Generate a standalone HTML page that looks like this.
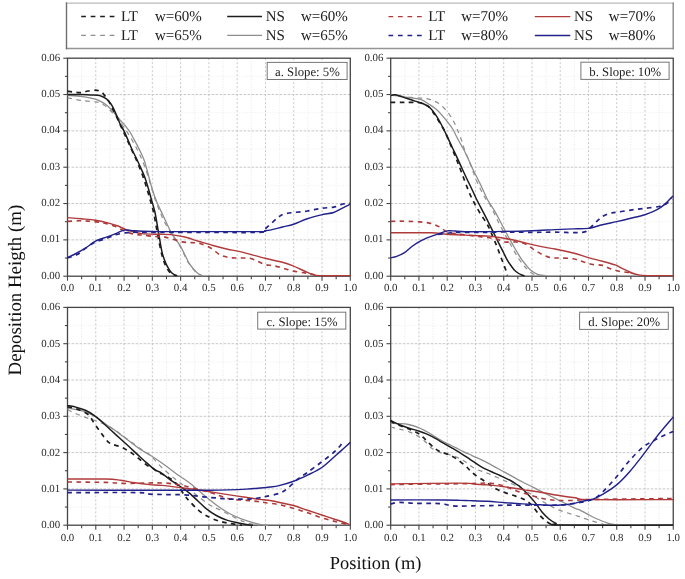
<!DOCTYPE html>
<html><head><meta charset="utf-8"><style>
html,body{margin:0;padding:0;background:#fff;}
svg{display:block;filter:blur(0.3px);}
text{font-family:"Liberation Serif",serif;text-rendering:geometricPrecision;}
.tl{font-size:10.85px;fill:#2a2a2a;}
.pl{font-size:12.75px;fill:#222;}
.lg{font-size:15px;fill:#222;}
.at{font-size:18.4px;fill:#111;}
.at2{font-size:18.85px;fill:#111;}
.gM{stroke:#bababa;stroke-width:0.8;stroke-dasharray:2 2;}
.gm{stroke:#e0e0e0;stroke-width:0.7;stroke-dasharray:1 1.6;}
.gMh{stroke:#bababa;stroke-width:0.8;stroke-dasharray:2.6 1.4;}
.gmh{stroke:#e6e6e6;stroke-width:0.7;stroke-dasharray:1 1.6;}
</style></head><body>
<svg width="685" height="579" viewBox="0 0 685 579">
<defs><clipPath id="cpa"><rect x="66.5" y="58.2" width="284.3" height="218.8"/></clipPath><clipPath id="cpb"><rect x="389.7" y="58.2" width="284.05" height="218.8"/></clipPath><clipPath id="cpc"><rect x="66.5" y="307.4" width="284.3" height="218.6"/></clipPath><clipPath id="cpd"><rect x="389.7" y="307.4" width="284.05" height="218.6"/></clipPath></defs>
<rect width="685" height="579" fill="#fff"/>
<line x1="81.64" y1="58.2" x2="81.64" y2="276.2" class="gm"/>
<line x1="95.78" y1="58.2" x2="95.78" y2="276.2" class="gM"/>
<line x1="109.92" y1="58.2" x2="109.92" y2="276.2" class="gm"/>
<line x1="124.06" y1="58.2" x2="124.06" y2="276.2" class="gM"/>
<line x1="138.2" y1="58.2" x2="138.2" y2="276.2" class="gm"/>
<line x1="152.34" y1="58.2" x2="152.34" y2="276.2" class="gM"/>
<line x1="166.48" y1="58.2" x2="166.48" y2="276.2" class="gm"/>
<line x1="180.62" y1="58.2" x2="180.62" y2="276.2" class="gM"/>
<line x1="194.76" y1="58.2" x2="194.76" y2="276.2" class="gm"/>
<line x1="208.9" y1="58.2" x2="208.9" y2="276.2" class="gM"/>
<line x1="223.04" y1="58.2" x2="223.04" y2="276.2" class="gm"/>
<line x1="237.18" y1="58.2" x2="237.18" y2="276.2" class="gM"/>
<line x1="251.32" y1="58.2" x2="251.32" y2="276.2" class="gm"/>
<line x1="265.46" y1="58.2" x2="265.46" y2="276.2" class="gM"/>
<line x1="279.6" y1="58.2" x2="279.6" y2="276.2" class="gm"/>
<line x1="293.74" y1="58.2" x2="293.74" y2="276.2" class="gM"/>
<line x1="307.88" y1="58.2" x2="307.88" y2="276.2" class="gm"/>
<line x1="322.02" y1="58.2" x2="322.02" y2="276.2" class="gM"/>
<line x1="336.16" y1="58.2" x2="336.16" y2="276.2" class="gm"/>
<line x1="67.5" y1="258.03" x2="350.3" y2="258.03" class="gmh"/>
<line x1="67.5" y1="239.87" x2="350.3" y2="239.87" class="gMh"/>
<line x1="67.5" y1="221.7" x2="350.3" y2="221.7" class="gmh"/>
<line x1="67.5" y1="203.53" x2="350.3" y2="203.53" class="gMh"/>
<line x1="67.5" y1="185.37" x2="350.3" y2="185.37" class="gmh"/>
<line x1="67.5" y1="167.2" x2="350.3" y2="167.2" class="gMh"/>
<line x1="67.5" y1="149.03" x2="350.3" y2="149.03" class="gmh"/>
<line x1="67.5" y1="130.87" x2="350.3" y2="130.87" class="gMh"/>
<line x1="67.5" y1="112.7" x2="350.3" y2="112.7" class="gmh"/>
<line x1="67.5" y1="94.53" x2="350.3" y2="94.53" class="gMh"/>
<line x1="67.5" y1="76.37" x2="350.3" y2="76.37" class="gmh"/>
<line x1="404.83" y1="58.2" x2="404.83" y2="276.2" class="gm"/>
<line x1="418.95" y1="58.2" x2="418.95" y2="276.2" class="gM"/>
<line x1="433.08" y1="58.2" x2="433.08" y2="276.2" class="gm"/>
<line x1="447.21" y1="58.2" x2="447.21" y2="276.2" class="gM"/>
<line x1="461.34" y1="58.2" x2="461.34" y2="276.2" class="gm"/>
<line x1="475.47" y1="58.2" x2="475.47" y2="276.2" class="gM"/>
<line x1="489.59" y1="58.2" x2="489.59" y2="276.2" class="gm"/>
<line x1="503.72" y1="58.2" x2="503.72" y2="276.2" class="gM"/>
<line x1="517.85" y1="58.2" x2="517.85" y2="276.2" class="gm"/>
<line x1="531.98" y1="58.2" x2="531.98" y2="276.2" class="gM"/>
<line x1="546.1" y1="58.2" x2="546.1" y2="276.2" class="gm"/>
<line x1="560.23" y1="58.2" x2="560.23" y2="276.2" class="gM"/>
<line x1="574.36" y1="58.2" x2="574.36" y2="276.2" class="gm"/>
<line x1="588.49" y1="58.2" x2="588.49" y2="276.2" class="gM"/>
<line x1="602.61" y1="58.2" x2="602.61" y2="276.2" class="gm"/>
<line x1="616.74" y1="58.2" x2="616.74" y2="276.2" class="gM"/>
<line x1="630.87" y1="58.2" x2="630.87" y2="276.2" class="gm"/>
<line x1="645" y1="58.2" x2="645" y2="276.2" class="gM"/>
<line x1="659.12" y1="58.2" x2="659.12" y2="276.2" class="gm"/>
<line x1="390.7" y1="258.03" x2="673.25" y2="258.03" class="gmh"/>
<line x1="390.7" y1="239.87" x2="673.25" y2="239.87" class="gMh"/>
<line x1="390.7" y1="221.7" x2="673.25" y2="221.7" class="gmh"/>
<line x1="390.7" y1="203.53" x2="673.25" y2="203.53" class="gMh"/>
<line x1="390.7" y1="185.37" x2="673.25" y2="185.37" class="gmh"/>
<line x1="390.7" y1="167.2" x2="673.25" y2="167.2" class="gMh"/>
<line x1="390.7" y1="149.03" x2="673.25" y2="149.03" class="gmh"/>
<line x1="390.7" y1="130.87" x2="673.25" y2="130.87" class="gMh"/>
<line x1="390.7" y1="112.7" x2="673.25" y2="112.7" class="gmh"/>
<line x1="390.7" y1="94.53" x2="673.25" y2="94.53" class="gMh"/>
<line x1="390.7" y1="76.37" x2="673.25" y2="76.37" class="gmh"/>
<line x1="81.64" y1="307.4" x2="81.64" y2="525.2" class="gm"/>
<line x1="95.78" y1="307.4" x2="95.78" y2="525.2" class="gM"/>
<line x1="109.92" y1="307.4" x2="109.92" y2="525.2" class="gm"/>
<line x1="124.06" y1="307.4" x2="124.06" y2="525.2" class="gM"/>
<line x1="138.2" y1="307.4" x2="138.2" y2="525.2" class="gm"/>
<line x1="152.34" y1="307.4" x2="152.34" y2="525.2" class="gM"/>
<line x1="166.48" y1="307.4" x2="166.48" y2="525.2" class="gm"/>
<line x1="180.62" y1="307.4" x2="180.62" y2="525.2" class="gM"/>
<line x1="194.76" y1="307.4" x2="194.76" y2="525.2" class="gm"/>
<line x1="208.9" y1="307.4" x2="208.9" y2="525.2" class="gM"/>
<line x1="223.04" y1="307.4" x2="223.04" y2="525.2" class="gm"/>
<line x1="237.18" y1="307.4" x2="237.18" y2="525.2" class="gM"/>
<line x1="251.32" y1="307.4" x2="251.32" y2="525.2" class="gm"/>
<line x1="265.46" y1="307.4" x2="265.46" y2="525.2" class="gM"/>
<line x1="279.6" y1="307.4" x2="279.6" y2="525.2" class="gm"/>
<line x1="293.74" y1="307.4" x2="293.74" y2="525.2" class="gM"/>
<line x1="307.88" y1="307.4" x2="307.88" y2="525.2" class="gm"/>
<line x1="322.02" y1="307.4" x2="322.02" y2="525.2" class="gM"/>
<line x1="336.16" y1="307.4" x2="336.16" y2="525.2" class="gm"/>
<line x1="67.5" y1="507.05" x2="350.3" y2="507.05" class="gmh"/>
<line x1="67.5" y1="488.9" x2="350.3" y2="488.9" class="gMh"/>
<line x1="67.5" y1="470.75" x2="350.3" y2="470.75" class="gmh"/>
<line x1="67.5" y1="452.6" x2="350.3" y2="452.6" class="gMh"/>
<line x1="67.5" y1="434.45" x2="350.3" y2="434.45" class="gmh"/>
<line x1="67.5" y1="416.3" x2="350.3" y2="416.3" class="gMh"/>
<line x1="67.5" y1="398.15" x2="350.3" y2="398.15" class="gmh"/>
<line x1="67.5" y1="380" x2="350.3" y2="380" class="gMh"/>
<line x1="67.5" y1="361.85" x2="350.3" y2="361.85" class="gmh"/>
<line x1="67.5" y1="343.7" x2="350.3" y2="343.7" class="gMh"/>
<line x1="67.5" y1="325.55" x2="350.3" y2="325.55" class="gmh"/>
<line x1="404.83" y1="307.4" x2="404.83" y2="525.2" class="gm"/>
<line x1="418.95" y1="307.4" x2="418.95" y2="525.2" class="gM"/>
<line x1="433.08" y1="307.4" x2="433.08" y2="525.2" class="gm"/>
<line x1="447.21" y1="307.4" x2="447.21" y2="525.2" class="gM"/>
<line x1="461.34" y1="307.4" x2="461.34" y2="525.2" class="gm"/>
<line x1="475.47" y1="307.4" x2="475.47" y2="525.2" class="gM"/>
<line x1="489.59" y1="307.4" x2="489.59" y2="525.2" class="gm"/>
<line x1="503.72" y1="307.4" x2="503.72" y2="525.2" class="gM"/>
<line x1="517.85" y1="307.4" x2="517.85" y2="525.2" class="gm"/>
<line x1="531.98" y1="307.4" x2="531.98" y2="525.2" class="gM"/>
<line x1="546.1" y1="307.4" x2="546.1" y2="525.2" class="gm"/>
<line x1="560.23" y1="307.4" x2="560.23" y2="525.2" class="gM"/>
<line x1="574.36" y1="307.4" x2="574.36" y2="525.2" class="gm"/>
<line x1="588.49" y1="307.4" x2="588.49" y2="525.2" class="gM"/>
<line x1="602.61" y1="307.4" x2="602.61" y2="525.2" class="gm"/>
<line x1="616.74" y1="307.4" x2="616.74" y2="525.2" class="gM"/>
<line x1="630.87" y1="307.4" x2="630.87" y2="525.2" class="gm"/>
<line x1="645" y1="307.4" x2="645" y2="525.2" class="gM"/>
<line x1="659.12" y1="307.4" x2="659.12" y2="525.2" class="gm"/>
<line x1="390.7" y1="507.05" x2="673.25" y2="507.05" class="gmh"/>
<line x1="390.7" y1="488.9" x2="673.25" y2="488.9" class="gMh"/>
<line x1="390.7" y1="470.75" x2="673.25" y2="470.75" class="gmh"/>
<line x1="390.7" y1="452.6" x2="673.25" y2="452.6" class="gMh"/>
<line x1="390.7" y1="434.45" x2="673.25" y2="434.45" class="gmh"/>
<line x1="390.7" y1="416.3" x2="673.25" y2="416.3" class="gMh"/>
<line x1="390.7" y1="398.15" x2="673.25" y2="398.15" class="gmh"/>
<line x1="390.7" y1="380" x2="673.25" y2="380" class="gMh"/>
<line x1="390.7" y1="361.85" x2="673.25" y2="361.85" class="gmh"/>
<line x1="390.7" y1="343.7" x2="673.25" y2="343.7" class="gMh"/>
<line x1="390.7" y1="325.55" x2="673.25" y2="325.55" class="gmh"/>
<rect x="67.5" y="58.2" width="282.8" height="218" fill="none" stroke="#454545" stroke-width="1.3"/>
<line x1="67.5" y1="276.2" x2="67.5" y2="280.7" stroke="#454545" stroke-width="1.1"/>
<line x1="81.64" y1="276.2" x2="81.64" y2="279.2" stroke="#454545" stroke-width="1.1"/>
<line x1="95.78" y1="276.2" x2="95.78" y2="280.7" stroke="#454545" stroke-width="1.1"/>
<line x1="109.92" y1="276.2" x2="109.92" y2="279.2" stroke="#454545" stroke-width="1.1"/>
<line x1="124.06" y1="276.2" x2="124.06" y2="280.7" stroke="#454545" stroke-width="1.1"/>
<line x1="138.2" y1="276.2" x2="138.2" y2="279.2" stroke="#454545" stroke-width="1.1"/>
<line x1="152.34" y1="276.2" x2="152.34" y2="280.7" stroke="#454545" stroke-width="1.1"/>
<line x1="166.48" y1="276.2" x2="166.48" y2="279.2" stroke="#454545" stroke-width="1.1"/>
<line x1="180.62" y1="276.2" x2="180.62" y2="280.7" stroke="#454545" stroke-width="1.1"/>
<line x1="194.76" y1="276.2" x2="194.76" y2="279.2" stroke="#454545" stroke-width="1.1"/>
<line x1="208.9" y1="276.2" x2="208.9" y2="280.7" stroke="#454545" stroke-width="1.1"/>
<line x1="223.04" y1="276.2" x2="223.04" y2="279.2" stroke="#454545" stroke-width="1.1"/>
<line x1="237.18" y1="276.2" x2="237.18" y2="280.7" stroke="#454545" stroke-width="1.1"/>
<line x1="251.32" y1="276.2" x2="251.32" y2="279.2" stroke="#454545" stroke-width="1.1"/>
<line x1="265.46" y1="276.2" x2="265.46" y2="280.7" stroke="#454545" stroke-width="1.1"/>
<line x1="279.6" y1="276.2" x2="279.6" y2="279.2" stroke="#454545" stroke-width="1.1"/>
<line x1="293.74" y1="276.2" x2="293.74" y2="280.7" stroke="#454545" stroke-width="1.1"/>
<line x1="307.88" y1="276.2" x2="307.88" y2="279.2" stroke="#454545" stroke-width="1.1"/>
<line x1="322.02" y1="276.2" x2="322.02" y2="280.7" stroke="#454545" stroke-width="1.1"/>
<line x1="336.16" y1="276.2" x2="336.16" y2="279.2" stroke="#454545" stroke-width="1.1"/>
<line x1="350.3" y1="276.2" x2="350.3" y2="280.7" stroke="#454545" stroke-width="1.1"/>
<line x1="63.3" y1="276.2" x2="67.5" y2="276.2" stroke="#454545" stroke-width="1.1"/>
<line x1="64.9" y1="258.03" x2="67.5" y2="258.03" stroke="#454545" stroke-width="1.1"/>
<line x1="63.3" y1="239.87" x2="67.5" y2="239.87" stroke="#454545" stroke-width="1.1"/>
<line x1="64.9" y1="221.7" x2="67.5" y2="221.7" stroke="#454545" stroke-width="1.1"/>
<line x1="63.3" y1="203.53" x2="67.5" y2="203.53" stroke="#454545" stroke-width="1.1"/>
<line x1="64.9" y1="185.37" x2="67.5" y2="185.37" stroke="#454545" stroke-width="1.1"/>
<line x1="63.3" y1="167.2" x2="67.5" y2="167.2" stroke="#454545" stroke-width="1.1"/>
<line x1="64.9" y1="149.03" x2="67.5" y2="149.03" stroke="#454545" stroke-width="1.1"/>
<line x1="63.3" y1="130.87" x2="67.5" y2="130.87" stroke="#454545" stroke-width="1.1"/>
<line x1="64.9" y1="112.7" x2="67.5" y2="112.7" stroke="#454545" stroke-width="1.1"/>
<line x1="63.3" y1="94.53" x2="67.5" y2="94.53" stroke="#454545" stroke-width="1.1"/>
<line x1="64.9" y1="76.37" x2="67.5" y2="76.37" stroke="#454545" stroke-width="1.1"/>
<line x1="63.3" y1="58.2" x2="67.5" y2="58.2" stroke="#454545" stroke-width="1.1"/>
<text x="67.5" y="291.45" class="tl" text-anchor="middle">0.0</text>
<text x="95.78" y="291.45" class="tl" text-anchor="middle">0.1</text>
<text x="124.06" y="291.45" class="tl" text-anchor="middle">0.2</text>
<text x="152.34" y="291.45" class="tl" text-anchor="middle">0.3</text>
<text x="180.62" y="291.45" class="tl" text-anchor="middle">0.4</text>
<text x="208.9" y="291.45" class="tl" text-anchor="middle">0.5</text>
<text x="237.18" y="291.45" class="tl" text-anchor="middle">0.6</text>
<text x="265.46" y="291.45" class="tl" text-anchor="middle">0.7</text>
<text x="293.74" y="291.45" class="tl" text-anchor="middle">0.8</text>
<text x="322.02" y="291.45" class="tl" text-anchor="middle">0.9</text>
<text x="350.3" y="291.45" class="tl" text-anchor="middle">1.0</text>
<text x="60.2" y="278.6" class="tl" text-anchor="end">0.00</text>
<text x="60.2" y="242.27" class="tl" text-anchor="end">0.01</text>
<text x="60.2" y="205.93" class="tl" text-anchor="end">0.02</text>
<text x="60.2" y="169.6" class="tl" text-anchor="end">0.03</text>
<text x="60.2" y="133.27" class="tl" text-anchor="end">0.04</text>
<text x="60.2" y="96.93" class="tl" text-anchor="end">0.05</text>
<text x="60.2" y="60.6" class="tl" text-anchor="end">0.06</text>
<rect x="390.7" y="58.2" width="282.55" height="218" fill="none" stroke="#454545" stroke-width="1.3"/>
<line x1="390.7" y1="276.2" x2="390.7" y2="280.7" stroke="#454545" stroke-width="1.1"/>
<line x1="404.83" y1="276.2" x2="404.83" y2="279.2" stroke="#454545" stroke-width="1.1"/>
<line x1="418.95" y1="276.2" x2="418.95" y2="280.7" stroke="#454545" stroke-width="1.1"/>
<line x1="433.08" y1="276.2" x2="433.08" y2="279.2" stroke="#454545" stroke-width="1.1"/>
<line x1="447.21" y1="276.2" x2="447.21" y2="280.7" stroke="#454545" stroke-width="1.1"/>
<line x1="461.34" y1="276.2" x2="461.34" y2="279.2" stroke="#454545" stroke-width="1.1"/>
<line x1="475.47" y1="276.2" x2="475.47" y2="280.7" stroke="#454545" stroke-width="1.1"/>
<line x1="489.59" y1="276.2" x2="489.59" y2="279.2" stroke="#454545" stroke-width="1.1"/>
<line x1="503.72" y1="276.2" x2="503.72" y2="280.7" stroke="#454545" stroke-width="1.1"/>
<line x1="517.85" y1="276.2" x2="517.85" y2="279.2" stroke="#454545" stroke-width="1.1"/>
<line x1="531.98" y1="276.2" x2="531.98" y2="280.7" stroke="#454545" stroke-width="1.1"/>
<line x1="546.1" y1="276.2" x2="546.1" y2="279.2" stroke="#454545" stroke-width="1.1"/>
<line x1="560.23" y1="276.2" x2="560.23" y2="280.7" stroke="#454545" stroke-width="1.1"/>
<line x1="574.36" y1="276.2" x2="574.36" y2="279.2" stroke="#454545" stroke-width="1.1"/>
<line x1="588.49" y1="276.2" x2="588.49" y2="280.7" stroke="#454545" stroke-width="1.1"/>
<line x1="602.61" y1="276.2" x2="602.61" y2="279.2" stroke="#454545" stroke-width="1.1"/>
<line x1="616.74" y1="276.2" x2="616.74" y2="280.7" stroke="#454545" stroke-width="1.1"/>
<line x1="630.87" y1="276.2" x2="630.87" y2="279.2" stroke="#454545" stroke-width="1.1"/>
<line x1="645" y1="276.2" x2="645" y2="280.7" stroke="#454545" stroke-width="1.1"/>
<line x1="659.12" y1="276.2" x2="659.12" y2="279.2" stroke="#454545" stroke-width="1.1"/>
<line x1="673.25" y1="276.2" x2="673.25" y2="280.7" stroke="#454545" stroke-width="1.1"/>
<line x1="386.5" y1="276.2" x2="390.7" y2="276.2" stroke="#454545" stroke-width="1.1"/>
<line x1="388.1" y1="258.03" x2="390.7" y2="258.03" stroke="#454545" stroke-width="1.1"/>
<line x1="386.5" y1="239.87" x2="390.7" y2="239.87" stroke="#454545" stroke-width="1.1"/>
<line x1="388.1" y1="221.7" x2="390.7" y2="221.7" stroke="#454545" stroke-width="1.1"/>
<line x1="386.5" y1="203.53" x2="390.7" y2="203.53" stroke="#454545" stroke-width="1.1"/>
<line x1="388.1" y1="185.37" x2="390.7" y2="185.37" stroke="#454545" stroke-width="1.1"/>
<line x1="386.5" y1="167.2" x2="390.7" y2="167.2" stroke="#454545" stroke-width="1.1"/>
<line x1="388.1" y1="149.03" x2="390.7" y2="149.03" stroke="#454545" stroke-width="1.1"/>
<line x1="386.5" y1="130.87" x2="390.7" y2="130.87" stroke="#454545" stroke-width="1.1"/>
<line x1="388.1" y1="112.7" x2="390.7" y2="112.7" stroke="#454545" stroke-width="1.1"/>
<line x1="386.5" y1="94.53" x2="390.7" y2="94.53" stroke="#454545" stroke-width="1.1"/>
<line x1="388.1" y1="76.37" x2="390.7" y2="76.37" stroke="#454545" stroke-width="1.1"/>
<line x1="386.5" y1="58.2" x2="390.7" y2="58.2" stroke="#454545" stroke-width="1.1"/>
<text x="390.7" y="291.45" class="tl" text-anchor="middle">0.0</text>
<text x="418.95" y="291.45" class="tl" text-anchor="middle">0.1</text>
<text x="447.21" y="291.45" class="tl" text-anchor="middle">0.2</text>
<text x="475.47" y="291.45" class="tl" text-anchor="middle">0.3</text>
<text x="503.72" y="291.45" class="tl" text-anchor="middle">0.4</text>
<text x="531.98" y="291.45" class="tl" text-anchor="middle">0.5</text>
<text x="560.23" y="291.45" class="tl" text-anchor="middle">0.6</text>
<text x="588.49" y="291.45" class="tl" text-anchor="middle">0.7</text>
<text x="616.74" y="291.45" class="tl" text-anchor="middle">0.8</text>
<text x="645" y="291.45" class="tl" text-anchor="middle">0.9</text>
<text x="673.25" y="291.45" class="tl" text-anchor="middle">1.0</text>
<text x="383.4" y="278.6" class="tl" text-anchor="end">0.00</text>
<text x="383.4" y="242.27" class="tl" text-anchor="end">0.01</text>
<text x="383.4" y="205.93" class="tl" text-anchor="end">0.02</text>
<text x="383.4" y="169.6" class="tl" text-anchor="end">0.03</text>
<text x="383.4" y="133.27" class="tl" text-anchor="end">0.04</text>
<text x="383.4" y="96.93" class="tl" text-anchor="end">0.05</text>
<text x="383.4" y="60.6" class="tl" text-anchor="end">0.06</text>
<rect x="67.5" y="307.4" width="282.8" height="217.8" fill="none" stroke="#454545" stroke-width="1.3"/>
<line x1="67.5" y1="525.2" x2="67.5" y2="529.7" stroke="#454545" stroke-width="1.1"/>
<line x1="81.64" y1="525.2" x2="81.64" y2="528.2" stroke="#454545" stroke-width="1.1"/>
<line x1="95.78" y1="525.2" x2="95.78" y2="529.7" stroke="#454545" stroke-width="1.1"/>
<line x1="109.92" y1="525.2" x2="109.92" y2="528.2" stroke="#454545" stroke-width="1.1"/>
<line x1="124.06" y1="525.2" x2="124.06" y2="529.7" stroke="#454545" stroke-width="1.1"/>
<line x1="138.2" y1="525.2" x2="138.2" y2="528.2" stroke="#454545" stroke-width="1.1"/>
<line x1="152.34" y1="525.2" x2="152.34" y2="529.7" stroke="#454545" stroke-width="1.1"/>
<line x1="166.48" y1="525.2" x2="166.48" y2="528.2" stroke="#454545" stroke-width="1.1"/>
<line x1="180.62" y1="525.2" x2="180.62" y2="529.7" stroke="#454545" stroke-width="1.1"/>
<line x1="194.76" y1="525.2" x2="194.76" y2="528.2" stroke="#454545" stroke-width="1.1"/>
<line x1="208.9" y1="525.2" x2="208.9" y2="529.7" stroke="#454545" stroke-width="1.1"/>
<line x1="223.04" y1="525.2" x2="223.04" y2="528.2" stroke="#454545" stroke-width="1.1"/>
<line x1="237.18" y1="525.2" x2="237.18" y2="529.7" stroke="#454545" stroke-width="1.1"/>
<line x1="251.32" y1="525.2" x2="251.32" y2="528.2" stroke="#454545" stroke-width="1.1"/>
<line x1="265.46" y1="525.2" x2="265.46" y2="529.7" stroke="#454545" stroke-width="1.1"/>
<line x1="279.6" y1="525.2" x2="279.6" y2="528.2" stroke="#454545" stroke-width="1.1"/>
<line x1="293.74" y1="525.2" x2="293.74" y2="529.7" stroke="#454545" stroke-width="1.1"/>
<line x1="307.88" y1="525.2" x2="307.88" y2="528.2" stroke="#454545" stroke-width="1.1"/>
<line x1="322.02" y1="525.2" x2="322.02" y2="529.7" stroke="#454545" stroke-width="1.1"/>
<line x1="336.16" y1="525.2" x2="336.16" y2="528.2" stroke="#454545" stroke-width="1.1"/>
<line x1="350.3" y1="525.2" x2="350.3" y2="529.7" stroke="#454545" stroke-width="1.1"/>
<line x1="63.3" y1="525.2" x2="67.5" y2="525.2" stroke="#454545" stroke-width="1.1"/>
<line x1="64.9" y1="507.05" x2="67.5" y2="507.05" stroke="#454545" stroke-width="1.1"/>
<line x1="63.3" y1="488.9" x2="67.5" y2="488.9" stroke="#454545" stroke-width="1.1"/>
<line x1="64.9" y1="470.75" x2="67.5" y2="470.75" stroke="#454545" stroke-width="1.1"/>
<line x1="63.3" y1="452.6" x2="67.5" y2="452.6" stroke="#454545" stroke-width="1.1"/>
<line x1="64.9" y1="434.45" x2="67.5" y2="434.45" stroke="#454545" stroke-width="1.1"/>
<line x1="63.3" y1="416.3" x2="67.5" y2="416.3" stroke="#454545" stroke-width="1.1"/>
<line x1="64.9" y1="398.15" x2="67.5" y2="398.15" stroke="#454545" stroke-width="1.1"/>
<line x1="63.3" y1="380" x2="67.5" y2="380" stroke="#454545" stroke-width="1.1"/>
<line x1="64.9" y1="361.85" x2="67.5" y2="361.85" stroke="#454545" stroke-width="1.1"/>
<line x1="63.3" y1="343.7" x2="67.5" y2="343.7" stroke="#454545" stroke-width="1.1"/>
<line x1="64.9" y1="325.55" x2="67.5" y2="325.55" stroke="#454545" stroke-width="1.1"/>
<line x1="63.3" y1="307.4" x2="67.5" y2="307.4" stroke="#454545" stroke-width="1.1"/>
<text x="67.5" y="540.65" class="tl" text-anchor="middle">0.0</text>
<text x="95.78" y="540.65" class="tl" text-anchor="middle">0.1</text>
<text x="124.06" y="540.65" class="tl" text-anchor="middle">0.2</text>
<text x="152.34" y="540.65" class="tl" text-anchor="middle">0.3</text>
<text x="180.62" y="540.65" class="tl" text-anchor="middle">0.4</text>
<text x="208.9" y="540.65" class="tl" text-anchor="middle">0.5</text>
<text x="237.18" y="540.65" class="tl" text-anchor="middle">0.6</text>
<text x="265.46" y="540.65" class="tl" text-anchor="middle">0.7</text>
<text x="293.74" y="540.65" class="tl" text-anchor="middle">0.8</text>
<text x="322.02" y="540.65" class="tl" text-anchor="middle">0.9</text>
<text x="350.3" y="540.65" class="tl" text-anchor="middle">1.0</text>
<text x="60.2" y="528.2" class="tl" text-anchor="end">0.00</text>
<text x="60.2" y="491.9" class="tl" text-anchor="end">0.01</text>
<text x="60.2" y="455.6" class="tl" text-anchor="end">0.02</text>
<text x="60.2" y="419.3" class="tl" text-anchor="end">0.03</text>
<text x="60.2" y="383" class="tl" text-anchor="end">0.04</text>
<text x="60.2" y="346.7" class="tl" text-anchor="end">0.05</text>
<text x="60.2" y="310.4" class="tl" text-anchor="end">0.06</text>
<rect x="390.7" y="307.4" width="282.55" height="217.8" fill="none" stroke="#454545" stroke-width="1.3"/>
<line x1="390.7" y1="525.2" x2="390.7" y2="529.7" stroke="#454545" stroke-width="1.1"/>
<line x1="404.83" y1="525.2" x2="404.83" y2="528.2" stroke="#454545" stroke-width="1.1"/>
<line x1="418.95" y1="525.2" x2="418.95" y2="529.7" stroke="#454545" stroke-width="1.1"/>
<line x1="433.08" y1="525.2" x2="433.08" y2="528.2" stroke="#454545" stroke-width="1.1"/>
<line x1="447.21" y1="525.2" x2="447.21" y2="529.7" stroke="#454545" stroke-width="1.1"/>
<line x1="461.34" y1="525.2" x2="461.34" y2="528.2" stroke="#454545" stroke-width="1.1"/>
<line x1="475.47" y1="525.2" x2="475.47" y2="529.7" stroke="#454545" stroke-width="1.1"/>
<line x1="489.59" y1="525.2" x2="489.59" y2="528.2" stroke="#454545" stroke-width="1.1"/>
<line x1="503.72" y1="525.2" x2="503.72" y2="529.7" stroke="#454545" stroke-width="1.1"/>
<line x1="517.85" y1="525.2" x2="517.85" y2="528.2" stroke="#454545" stroke-width="1.1"/>
<line x1="531.98" y1="525.2" x2="531.98" y2="529.7" stroke="#454545" stroke-width="1.1"/>
<line x1="546.1" y1="525.2" x2="546.1" y2="528.2" stroke="#454545" stroke-width="1.1"/>
<line x1="560.23" y1="525.2" x2="560.23" y2="529.7" stroke="#454545" stroke-width="1.1"/>
<line x1="574.36" y1="525.2" x2="574.36" y2="528.2" stroke="#454545" stroke-width="1.1"/>
<line x1="588.49" y1="525.2" x2="588.49" y2="529.7" stroke="#454545" stroke-width="1.1"/>
<line x1="602.61" y1="525.2" x2="602.61" y2="528.2" stroke="#454545" stroke-width="1.1"/>
<line x1="616.74" y1="525.2" x2="616.74" y2="529.7" stroke="#454545" stroke-width="1.1"/>
<line x1="630.87" y1="525.2" x2="630.87" y2="528.2" stroke="#454545" stroke-width="1.1"/>
<line x1="645" y1="525.2" x2="645" y2="529.7" stroke="#454545" stroke-width="1.1"/>
<line x1="659.12" y1="525.2" x2="659.12" y2="528.2" stroke="#454545" stroke-width="1.1"/>
<line x1="673.25" y1="525.2" x2="673.25" y2="529.7" stroke="#454545" stroke-width="1.1"/>
<line x1="386.5" y1="525.2" x2="390.7" y2="525.2" stroke="#454545" stroke-width="1.1"/>
<line x1="388.1" y1="507.05" x2="390.7" y2="507.05" stroke="#454545" stroke-width="1.1"/>
<line x1="386.5" y1="488.9" x2="390.7" y2="488.9" stroke="#454545" stroke-width="1.1"/>
<line x1="388.1" y1="470.75" x2="390.7" y2="470.75" stroke="#454545" stroke-width="1.1"/>
<line x1="386.5" y1="452.6" x2="390.7" y2="452.6" stroke="#454545" stroke-width="1.1"/>
<line x1="388.1" y1="434.45" x2="390.7" y2="434.45" stroke="#454545" stroke-width="1.1"/>
<line x1="386.5" y1="416.3" x2="390.7" y2="416.3" stroke="#454545" stroke-width="1.1"/>
<line x1="388.1" y1="398.15" x2="390.7" y2="398.15" stroke="#454545" stroke-width="1.1"/>
<line x1="386.5" y1="380" x2="390.7" y2="380" stroke="#454545" stroke-width="1.1"/>
<line x1="388.1" y1="361.85" x2="390.7" y2="361.85" stroke="#454545" stroke-width="1.1"/>
<line x1="386.5" y1="343.7" x2="390.7" y2="343.7" stroke="#454545" stroke-width="1.1"/>
<line x1="388.1" y1="325.55" x2="390.7" y2="325.55" stroke="#454545" stroke-width="1.1"/>
<line x1="386.5" y1="307.4" x2="390.7" y2="307.4" stroke="#454545" stroke-width="1.1"/>
<text x="390.7" y="540.65" class="tl" text-anchor="middle">0.0</text>
<text x="418.95" y="540.65" class="tl" text-anchor="middle">0.1</text>
<text x="447.21" y="540.65" class="tl" text-anchor="middle">0.2</text>
<text x="475.47" y="540.65" class="tl" text-anchor="middle">0.3</text>
<text x="503.72" y="540.65" class="tl" text-anchor="middle">0.4</text>
<text x="531.98" y="540.65" class="tl" text-anchor="middle">0.5</text>
<text x="560.23" y="540.65" class="tl" text-anchor="middle">0.6</text>
<text x="588.49" y="540.65" class="tl" text-anchor="middle">0.7</text>
<text x="616.74" y="540.65" class="tl" text-anchor="middle">0.8</text>
<text x="645" y="540.65" class="tl" text-anchor="middle">0.9</text>
<text x="673.25" y="540.65" class="tl" text-anchor="middle">1.0</text>
<text x="383.4" y="528.2" class="tl" text-anchor="end">0.00</text>
<text x="383.4" y="491.9" class="tl" text-anchor="end">0.01</text>
<text x="383.4" y="455.6" class="tl" text-anchor="end">0.02</text>
<text x="383.4" y="419.3" class="tl" text-anchor="end">0.03</text>
<text x="383.4" y="383" class="tl" text-anchor="end">0.04</text>
<text x="383.4" y="346.7" class="tl" text-anchor="end">0.05</text>
<text x="383.4" y="310.4" class="tl" text-anchor="end">0.06</text>
<g clip-path="url(#cpa)">
<path d="M67.5,97.8 C69.82,98.23 76.68,99.72 81.4,100.4 C86.12,101.08 92.7,101.52 95.8,101.9 C98.9,102.28 98.63,102.18 100,102.7 C101.37,103.22 102.5,103.95 104,105 C105.5,106.05 107.33,107.42 109,109 C110.67,110.58 112.33,112.58 114,114.5 C115.67,116.42 117.33,118.33 119,120.5 C120.67,122.67 122.33,125.08 124,127.5 C125.67,129.92 127.33,132.33 129,135 C130.67,137.67 132.42,140.67 134,143.5 C135.58,146.33 137.08,149.08 138.5,152 C139.92,154.92 141.08,157.5 142.5,161 C143.92,164.5 145.58,168.83 147,173 C148.42,177.17 149.67,181.67 151,186 C152.33,190.33 153.5,194.67 155,199 C156.5,203.33 158.33,208 160,212 C161.67,216 163.5,220.13 165,223 C166.5,225.87 167.83,227.25 169,229.2 C170.17,231.15 170.7,232.67 172,234.7 C173.3,236.73 175.38,239.33 176.8,241.4 C178.22,243.47 179.25,244.88 180.5,247.1 C181.75,249.32 183.03,252.17 184.3,254.7 C185.57,257.23 186.67,259.93 188.1,262.3 C189.53,264.67 191.32,267.02 192.9,268.9 C194.48,270.78 196,272.42 197.6,273.6 C199.2,274.78 201.68,275.6 202.5,276" fill="none" stroke="#8e8e8e" stroke-width="1.2" stroke-dasharray="4.6 4.4" stroke-linejoin="round"/>
<path d="M67.5,95.3 C69.75,95.47 77.25,95.87 81,96.3 C84.75,96.73 87.62,97.42 90,97.9 C92.38,98.38 93.55,98.63 95.3,99.2 C97.05,99.77 98.75,100.42 100.5,101.3 C102.25,102.18 104.22,103.35 105.8,104.5 C107.38,105.65 108.7,106.92 110,108.2 C111.3,109.48 112.43,110.82 113.6,112.2 C114.77,113.58 115.85,115.12 117,116.5 C118.15,117.88 119.05,118.87 120.5,120.5 C121.95,122.13 124.12,124.38 125.7,126.3 C127.28,128.22 128.78,130.13 130,132 C131.22,133.87 131.83,135.35 133,137.5 C134.17,139.65 135.67,142.32 137,144.9 C138.33,147.48 139.73,150.23 141,153 C142.27,155.77 143.15,157 144.6,161.5 C146.05,166 148.38,175.25 149.7,180 C151.02,184.75 151.35,186.4 152.5,190 C153.65,193.6 154.92,197.52 156.6,201.6 C158.28,205.68 160.45,209.9 162.6,214.5 C164.75,219.1 167.85,225.83 169.5,229.2 C171.15,232.57 171.2,232.67 172.5,234.7 C173.8,236.73 175.88,239.33 177.3,241.4 C178.72,243.47 179.75,244.88 181,247.1 C182.25,249.32 183.53,252.17 184.8,254.7 C186.07,257.23 187.17,259.93 188.6,262.3 C190.03,264.67 191.82,267.02 193.4,268.9 C194.98,270.78 196.5,272.42 198.1,273.6 C199.7,274.78 202.18,275.6 203,276" fill="none" stroke="#8e8e8e" stroke-width="1.3" stroke-linejoin="round"/>
<path d="M67.5,91.2 C68.58,91.37 71.68,91.97 74,92.2 C76.32,92.43 79.07,92.8 81.4,92.6 C83.73,92.4 85.65,91.4 88,91 C90.35,90.6 93.55,90.17 95.5,90.2 C97.45,90.23 98.53,90.73 99.7,91.2 C100.87,91.67 101.62,92.2 102.5,93 C103.38,93.8 104.2,94.97 105,96 C105.8,97.03 106.47,97.95 107.3,99.2 C108.13,100.45 109.13,101.95 110,103.5 C110.87,105.05 111.42,106.33 112.5,108.5 C113.58,110.67 115.25,113.83 116.5,116.5 C117.75,119.17 118.83,121.95 120,124.5 C121.17,127.05 122.25,129.13 123.5,131.8 C124.75,134.47 126.17,137.55 127.5,140.5 C128.83,143.45 130.17,146.58 131.5,149.5 C132.83,152.42 134.2,155.08 135.5,158 C136.8,160.92 137.97,163.67 139.3,167 C140.63,170.33 142.22,174.33 143.5,178 C144.78,181.67 145.83,185.17 147,189 C148.17,192.83 149.42,197.17 150.5,201 C151.58,204.83 152.5,207.5 153.5,212 C154.5,216.5 155.5,222.67 156.5,228 C157.5,233.33 158.5,239.17 159.5,244 C160.5,248.83 161.33,253.08 162.5,257 C163.67,260.92 165.08,264.75 166.5,267.5 C167.92,270.25 169.42,272.15 171,273.5 C172.58,274.85 175.17,275.25 176,275.6" fill="none" stroke="#1c1c1c" stroke-width="1.7" stroke-dasharray="4.6 4.4" stroke-linejoin="round"/>
<path d="M67.5,94.5 C69.75,94.52 77.25,94.52 81,94.6 C84.75,94.68 87.18,94.88 90,95 C92.82,95.12 95.97,95.08 97.9,95.3 C99.83,95.52 100.38,95.82 101.6,96.3 C102.82,96.78 104.15,97.53 105.2,98.2 C106.25,98.87 106.93,99.33 107.9,100.3 C108.87,101.27 110.05,102.6 111,104 C111.95,105.4 112.82,107.13 113.6,108.7 C114.38,110.27 115.03,111.88 115.7,113.4 C116.37,114.92 116.87,116.03 117.6,117.8 C118.33,119.57 119.07,121.87 120.1,124 C121.13,126.13 122.48,127.93 123.8,130.6 C125.12,133.27 126.62,136.82 128,140 C129.38,143.18 130.77,146.78 132.1,149.7 C133.43,152.62 134.73,154.85 136,157.5 C137.27,160.15 138.27,162.4 139.7,165.6 C141.13,168.8 143.13,172.8 144.6,176.7 C146.07,180.6 147.35,185.12 148.5,189 C149.65,192.88 150.43,196.17 151.5,200 C152.57,203.83 153.83,207.17 154.9,212 C155.97,216.83 156.77,222.57 157.9,229 C159.03,235.43 160.6,245.43 161.7,250.6 C162.8,255.77 163.58,257.42 164.5,260 C165.42,262.58 166.2,264.18 167.2,266.1 C168.2,268.02 169.33,270.07 170.5,271.5 C171.67,272.93 173.07,274.02 174.2,274.7 C175.33,275.38 176.78,275.45 177.3,275.6" fill="none" stroke="#1c1c1c" stroke-width="1.5" stroke-linejoin="round"/>
<path d="M67.5,221.4 C69.32,221.3 75.03,220.85 78.4,220.8 C81.77,220.75 84.6,220.92 87.7,221.1 C90.8,221.28 93.88,221.47 97,221.9 C100.12,222.33 103.28,222.92 106.4,223.7 C109.52,224.48 112.6,225.33 115.7,226.6 C118.8,227.87 121.88,230.03 125,231.3 C128.12,232.57 131.57,233.57 134.4,234.2 C137.23,234.83 138.63,234.72 142,235.1 C145.37,235.48 151.03,236.22 154.6,236.5 C158.17,236.78 160.48,236.38 163.4,236.8 C166.32,237.22 168.95,238.15 172.1,239 C175.25,239.85 179.13,241.3 182.3,241.9 C185.47,242.5 188.17,242.35 191.1,242.6 C194.03,242.85 196.5,242.42 199.9,243.4 C203.3,244.38 208.1,246.57 211.5,248.5 C214.9,250.43 217.13,253.47 220.3,255 C223.47,256.53 227.22,257.2 230.5,257.7 C233.78,258.2 236.8,257.9 240,258 C243.2,258.1 246.7,257.72 249.7,258.3 C252.7,258.88 255.42,260.45 258,261.5 C260.58,262.55 262.55,263.88 265.2,264.6 C267.85,265.32 270.77,265.15 273.9,265.8 C277.03,266.45 280.77,267.62 284,268.5 C287.23,269.38 289.68,270.33 293.3,271.1 C296.92,271.87 302.33,272.5 305.7,273.1 C309.07,273.7 311.45,274.33 313.5,274.7 C315.55,275.07 317.25,275.2 318,275.3" fill="none" stroke="#b03a3a" stroke-width="1.6" stroke-dasharray="4.6 4.4" stroke-linejoin="round"/>
<path d="M67.3,217.6 C69.63,217.8 76.6,218.37 81.3,218.8 C86,219.23 90.93,219.48 95.5,220.2 C100.07,220.92 104.93,222.13 108.7,223.1 C112.47,224.07 115.28,224.93 118.1,226 C120.92,227.07 122.88,228.52 125.6,229.5 C128.32,230.48 131.67,231.22 134.4,231.9 C137.13,232.58 137.9,233.2 142,233.6 C146.1,234 154.22,234.13 159,234.3 C163.78,234.47 166.57,234.18 170.7,234.6 C174.83,235.02 179.18,235.7 183.8,236.8 C188.42,237.9 193.53,239.75 198.4,241.2 C203.27,242.65 208.13,244.17 213,245.5 C217.87,246.83 223.1,248.18 227.6,249.2 C232.1,250.22 233.73,250.08 240,251.6 C246.27,253.12 258.13,256.52 265.2,258.3 C272.27,260.08 277.67,261 282.4,262.3 C287.13,263.6 290.67,264.98 293.6,266.1 C296.53,267.22 297.72,267.95 300,269 C302.28,270.05 305.13,271.5 307.3,272.4 C309.47,273.3 310.93,273.87 313,274.4 C315.07,274.93 313.37,275.4 319.7,275.6 C326.03,275.8 345.78,275.6 351,275.6" fill="none" stroke="#b03a3a" stroke-width="1.45" stroke-linejoin="round"/>
<path d="M67.3,258.1 C68.95,257.52 74,256.35 77.2,254.6 C80.4,252.85 83.45,249.7 86.5,247.6 C89.55,245.5 92.18,243.52 95.5,242 C98.82,240.48 103.03,239.7 106.4,238.5 C109.77,237.3 112.5,235.75 115.7,234.8 C118.9,233.85 122.48,233.25 125.6,232.8 C128.72,232.35 130.33,232.18 134.4,232.1 C138.47,232.02 139.07,232.27 150,232.3 C160.93,232.33 181.83,232.3 200,232.3 C218.17,232.3 248.13,232.88 259,232.3 C269.87,231.72 262.87,230.55 265.2,228.8 C267.53,227.05 270.67,223.85 273,221.8 C275.33,219.75 277.37,217.78 279.2,216.5 C281.03,215.22 281.6,214.77 284,214.1 C286.4,213.43 289.72,213.02 293.6,212.5 C297.48,211.98 302.68,211.7 307.3,211 C311.92,210.3 316.9,208.95 321.3,208.3 C325.7,207.65 330.08,207.82 333.7,207.1 C337.32,206.38 340.28,204.65 343,204 C345.72,203.35 348.83,203.33 350,203.2" fill="none" stroke="#22228c" stroke-width="1.7" stroke-dasharray="4.6 4.4" stroke-linejoin="round"/>
<path d="M67.3,257.6 C68.75,256.92 72.98,255.07 76,253.5 C79.02,251.93 82.15,250.25 85.4,248.2 C88.65,246.15 92,243.05 95.5,241.2 C99,239.35 103.03,238.37 106.4,237.1 C109.77,235.83 112.78,234.77 115.7,233.6 C118.62,232.43 121.18,230.6 123.9,230.1 C126.62,229.6 128.98,230.42 132,230.6 C135.02,230.78 137.33,231.03 142,231.2 C146.67,231.37 150.33,231.53 160,231.6 C169.67,231.67 183.5,231.6 200,231.6 C216.5,231.6 248.13,231.75 259,231.6 C269.87,231.45 263.37,230.95 265.2,230.7 C267.03,230.45 267.13,230.72 270,230.1 C272.87,229.48 278.47,227.98 282.4,227 C286.33,226.02 289.45,225.58 293.6,224.2 C297.75,222.82 302.68,220.25 307.3,218.7 C311.92,217.15 316.9,215.93 321.3,214.9 C325.7,213.87 330.33,213.55 333.7,212.5 C337.07,211.45 338.78,209.97 341.5,208.6 C344.22,207.23 348.58,205.02 350,204.3" fill="none" stroke="#22228c" stroke-width="1.45" stroke-linejoin="round"/>
</g>
<g clip-path="url(#cpb)">
<path d="M390.7,94.8 C391.7,94.87 393.75,94.8 396.7,95.2 C399.65,95.6 404.12,96.72 408.4,97.2 C412.68,97.68 418.9,97.75 422.4,98.1 C425.9,98.45 427.47,98.82 429.4,99.3 C431.33,99.78 432.45,100.32 434,101 C435.55,101.68 437.12,102.32 438.7,103.4 C440.28,104.48 441.93,105.95 443.5,107.5 C445.07,109.05 446.85,111.12 448.1,112.7 C449.35,114.28 450.03,115.45 451,117 C451.97,118.55 452.98,120.25 453.9,122 C454.82,123.75 455.72,125.73 456.5,127.5 C457.28,129.27 457.72,130.37 458.6,132.6 C459.48,134.83 460.77,137.92 461.8,140.9 C462.83,143.88 463.68,147.4 464.8,150.5 C465.92,153.6 467.3,156.47 468.5,159.5 C469.7,162.53 470.82,165.57 472,168.7 C473.18,171.83 474.28,175.08 475.6,178.3 C476.92,181.52 478.58,185.22 479.9,188 C481.22,190.78 482.48,193.08 483.5,195 C484.52,196.92 485.02,198.03 486,199.5 C486.98,200.97 487.98,201.38 489.4,203.8 C490.82,206.22 492.8,210.57 494.5,214 C496.2,217.43 497.93,221.15 499.6,224.4 C501.27,227.65 502.9,230.57 504.5,233.5 C506.1,236.43 507.2,238.38 509.2,242 C511.2,245.62 514.7,252.12 516.5,255.2 C518.3,258.28 518.78,258.78 520,260.5 C521.22,262.22 522.55,264 523.8,265.5 C525.05,267 526.28,268.28 527.5,269.5 C528.72,270.72 529.57,271.8 531.1,272.8 C532.63,273.8 535.77,275.05 536.7,275.5" fill="none" stroke="#8e8e8e" stroke-width="1.2" stroke-dasharray="4.6 4.4" stroke-linejoin="round"/>
<path d="M390.7,95.3 C391.87,95.4 394.58,95.5 397.7,95.9 C400.82,96.3 405.52,97.08 409.4,97.7 C413.28,98.32 417.67,98.47 421,99.6 C424.33,100.73 426.63,102.7 429.4,104.5 C432.17,106.3 434.88,107.87 437.6,110.4 C440.32,112.93 443.18,116.6 445.7,119.7 C448.22,122.8 450.98,126.37 452.7,129 C454.42,131.63 454.78,133.17 456,135.5 C457.22,137.83 458.63,140.5 460,143 C461.37,145.5 462.78,147.75 464.2,150.5 C465.62,153.25 467.1,156.47 468.5,159.5 C469.9,162.53 471.35,166.03 472.6,168.7 C473.85,171.37 474.78,173.08 476,175.5 C477.22,177.92 478.65,180.62 479.9,183.2 C481.15,185.78 482.2,188.2 483.5,191 C484.8,193.8 485.98,196.88 487.7,200 C489.42,203.12 491.92,206.53 493.8,209.7 C495.68,212.87 497.28,215.82 499,219 C500.72,222.18 502.52,225.8 504.1,228.8 C505.68,231.8 507.03,234.32 508.5,237 C509.97,239.68 511.48,242.4 512.9,244.9 C514.32,247.4 515.53,249.55 517,252 C518.47,254.45 520.2,257.43 521.7,259.6 C523.2,261.77 524.53,263.28 526,265 C527.47,266.72 529,268.57 530.5,269.9 C532,271.23 533.53,272.15 535,273 C536.47,273.85 537.6,274.57 539.3,275 C541,275.43 544.22,275.5 545.2,275.6" fill="none" stroke="#8e8e8e" stroke-width="1.3" stroke-linejoin="round"/>
<path d="M390.7,102.3 C393.08,102.3 400.45,102.27 405,102.3 C409.55,102.33 415,102.25 418,102.5 C421,102.75 421.3,103.17 423,103.8 C424.7,104.43 426.75,105.2 428.2,106.3 C429.65,107.4 430.33,108.55 431.7,110.4 C433.07,112.25 434.65,114.68 436.4,117.4 C438.15,120.12 440.6,123.93 442.2,126.7 C443.8,129.47 444.55,130.83 446,134 C447.45,137.17 449.38,142.03 450.9,145.7 C452.42,149.37 453.8,152.78 455.1,156 C456.4,159.22 457.48,161.88 458.7,165 C459.92,168.12 461.18,171.47 462.4,174.7 C463.62,177.93 464.68,181.02 466,184.4 C467.32,187.78 468.85,191.77 470.3,195 C471.75,198.23 472.98,200.62 474.7,203.8 C476.42,206.98 478.65,210.92 480.6,214.1 C482.55,217.28 484.83,220.25 486.4,222.9 C487.97,225.55 488.77,227.32 490,230 C491.23,232.68 492.63,236.25 493.8,239 C494.97,241.75 496.03,244.05 497,246.5 C497.97,248.95 498.77,251.45 499.6,253.7 C500.43,255.95 501.25,258.03 502,260 C502.75,261.97 503.38,263.6 504.1,265.5 C504.82,267.4 505.73,269.73 506.3,271.4 C506.87,273.07 507.3,274.82 507.5,275.5" fill="none" stroke="#1c1c1c" stroke-width="1.7" stroke-dasharray="4.6 4.4" stroke-linejoin="round"/>
<path d="M390.7,95.6 C391.47,95.47 392.68,94.35 395.3,94.8 C397.92,95.25 403.12,97.25 406.4,98.3 C409.68,99.35 412.18,100.18 415,101.1 C417.82,102.02 420.77,102.65 423.3,103.8 C425.83,104.95 428.13,106.15 430.2,108 C432.27,109.85 433.85,112.15 435.7,114.9 C437.55,117.65 439.45,121.05 441.3,124.5 C443.15,127.95 444.97,131.77 446.8,135.6 C448.63,139.43 450.47,143.58 452.3,147.5 C454.13,151.42 456.07,155.35 457.8,159.1 C459.53,162.85 461.03,166.38 462.7,170 C464.37,173.62 466.25,177.55 467.8,180.8 C469.35,184.05 470.48,186.3 472,189.5 C473.52,192.7 474.98,196.15 476.9,200 C478.82,203.85 481.65,209.02 483.5,212.6 C485.35,216.18 486.53,218.57 488,221.5 C489.47,224.43 490.97,227.53 492.3,230.2 C493.63,232.87 494.78,235.05 496,237.5 C497.22,239.95 498.35,242.4 499.6,244.9 C500.85,247.4 502.27,250.05 503.5,252.5 C504.73,254.95 505.83,257.52 507,259.6 C508.17,261.68 509.28,263.28 510.5,265 C511.72,266.72 513.05,268.57 514.3,269.9 C515.55,271.23 516.77,272.15 518,273 C519.23,273.85 520.6,274.53 521.7,275 C522.8,275.47 524.12,275.67 524.6,275.8" fill="none" stroke="#1c1c1c" stroke-width="1.5" stroke-linejoin="round"/>
<path d="M390.7,221.4 C392.08,221.35 396.05,221.1 399,221.1 C401.95,221.1 404.9,221.27 408.4,221.4 C411.9,221.53 416.5,221.62 420,221.9 C423.5,222.18 426.87,222.6 429.4,223.1 C431.93,223.6 433.25,224.12 435.2,224.9 C437.15,225.68 439.15,226.63 441.1,227.8 C443.05,228.97 444.57,230.93 446.9,231.9 C449.23,232.87 452.08,233.12 455.1,233.6 C458.12,234.08 460.52,234.25 465,234.8 C469.48,235.35 476.72,236.18 482,236.9 C487.28,237.62 493.02,238.25 496.7,239.1 C500.38,239.95 500.92,241.52 504.1,242 C507.28,242.48 512.13,241.63 515.8,242 C519.47,242.37 523.17,242.98 526.1,244.2 C529.03,245.42 530.72,247.58 533.4,249.3 C536.08,251.02 539.27,253.08 542.2,254.5 C545.13,255.92 548.03,257.22 551,257.8 C553.97,258.38 556.3,257.83 560,258 C563.7,258.17 569.47,258.2 573.2,258.8 C576.93,259.4 579.35,260.68 582.4,261.6 C585.45,262.52 588.17,263.67 591.5,264.3 C594.83,264.93 599.37,264.7 602.4,265.4 C605.43,266.1 606.95,267.53 609.7,268.5 C612.45,269.47 615.55,270.52 618.9,271.2 C622.25,271.88 627.28,272.22 629.8,272.6 C632.32,272.98 633.3,273.35 634,273.5" fill="none" stroke="#b03a3a" stroke-width="1.6" stroke-dasharray="4.6 4.4" stroke-linejoin="round"/>
<path d="M390.7,232.7 C393.92,232.7 403.17,232.68 410,232.7 C416.83,232.72 425.55,232.55 431.7,232.8 C437.85,233.05 441.35,233.82 446.9,234.2 C452.45,234.58 457.92,234.78 465,235.1 C472.08,235.42 482.88,235.57 489.4,236.1 C495.92,236.63 499.22,237.43 504.1,238.3 C508.98,239.17 513.82,240.2 518.7,241.3 C523.58,242.4 528.5,243.8 533.4,244.9 C538.3,246 544.5,247.22 548.1,247.9 C551.7,248.58 550.82,248.15 555,249 C559.18,249.85 567.63,251.57 573.2,253 C578.77,254.43 583.53,256.23 588.4,257.6 C593.27,258.97 597.93,259.98 602.4,261.2 C606.87,262.42 612.1,263.8 615.2,264.9 C618.3,266 618.87,266.75 621,267.8 C623.13,268.85 626,270.25 628,271.2 C630,272.15 631.18,272.88 633,273.5 C634.82,274.12 636.7,274.55 638.9,274.9 C641.1,275.25 640.52,275.48 646.2,275.6 C651.88,275.72 668.53,275.6 673,275.6" fill="none" stroke="#b03a3a" stroke-width="1.45" stroke-linejoin="round"/>
<path d="M438.1,234.4 C439.95,234.17 445.98,233.35 449.2,233 C452.42,232.65 452.27,232.4 457.4,232.3 C462.53,232.2 472.22,232.45 480,232.4 C487.78,232.35 495.77,232.02 504.1,232 C512.43,231.98 521.52,232.27 530,232.3 C538.48,232.33 546.27,232.18 555,232.2 C563.73,232.22 576.57,233.1 582.4,232.4 C588.23,231.7 587.57,229.88 590,228 C592.43,226.12 594.93,223.02 597,221.1 C599.07,219.18 600.28,217.78 602.4,216.5 C604.52,215.22 607.32,214.1 609.7,213.4 C612.08,212.7 613.2,212.85 616.7,212.3 C620.2,211.75 626.02,210.77 630.7,210.1 C635.38,209.43 640.08,208.9 644.8,208.3 C649.52,207.7 655.42,207.27 659,206.5 C662.58,205.73 664.13,205.03 666.3,203.7 C668.47,202.37 671.05,199.37 672,198.5" fill="none" stroke="#22228c" stroke-width="1.7" stroke-dasharray="4.6 4.4" stroke-linejoin="round"/>
<path d="M390.6,257.8 C391.62,257.57 394.32,257.32 396.7,256.4 C399.08,255.48 402.37,253.95 404.9,252.3 C407.43,250.65 409.57,248.25 411.9,246.5 C414.23,244.75 416.57,243.17 418.9,241.8 C421.23,240.43 423.38,239.37 425.9,238.3 C428.42,237.23 431.47,236.28 434,235.4 C436.53,234.52 438.95,233.75 441.1,233 C443.25,232.25 444.57,231.23 446.9,230.9 C449.23,230.57 452.08,230.87 455.1,231 C458.12,231.13 456.83,231.63 465,231.7 C473.17,231.77 492.93,231.57 504.1,231.4 C515.27,231.23 523.52,231 532,230.7 C540.48,230.4 548.13,229.9 555,229.6 C561.87,229.3 567.63,229.1 573.2,228.9 C578.77,228.7 583.53,229.1 588.4,228.4 C593.27,227.7 597.68,225.83 602.4,224.7 C607.12,223.57 611.98,222.67 616.7,221.6 C621.42,220.53 626.02,219.45 630.7,218.3 C635.38,217.15 641,215.85 644.8,214.7 C648.6,213.55 650.83,212.62 653.5,211.4 C656.17,210.18 658.67,208.83 660.8,207.4 C662.93,205.97 664.85,204.12 666.3,202.8 C667.75,201.48 668.38,200.63 669.5,199.5 C670.62,198.37 672.42,196.58 673,196" fill="none" stroke="#22228c" stroke-width="1.45" stroke-linejoin="round"/>
</g>
<g clip-path="url(#cpc)">
<path d="M67.5,409.6 C69.02,410.33 73.13,412.53 76.6,414 C80.07,415.47 84.9,417.18 88.3,418.4 C91.7,419.62 93.83,420.08 97,421.3 C100.17,422.52 104.13,424.12 107.3,425.7 C110.47,427.28 113.05,428.83 116,430.8 C118.95,432.77 122,435.3 125,437.5 C128,439.7 131,441.83 134,444 C137,446.17 140.33,448.58 143,450.5 C145.67,452.42 148.17,454.05 150,455.5 C151.83,456.95 151.95,457.12 154,459.2 C156.05,461.28 158.88,464.78 162.3,468 C165.72,471.22 170.72,475.42 174.5,478.5 C178.28,481.58 181.5,483.87 185,486.5 C188.5,489.13 191.38,491.22 195.5,494.3 C199.62,497.38 205.58,502.38 209.7,505 C213.82,507.62 215.6,507.7 220.2,510 C224.8,512.3 232.92,516.68 237.3,518.8 C241.68,520.92 243.43,521.72 246.5,522.7 C249.57,523.68 253.45,524.28 255.7,524.7 C257.95,525.12 259.28,525.12 260,525.2" fill="none" stroke="#8e8e8e" stroke-width="1.2" stroke-dasharray="4.6 4.4" stroke-linejoin="round"/>
<path d="M67.5,408.1 C69.02,408.35 73.62,408.98 76.6,409.6 C79.58,410.22 82.23,410.58 85.4,411.8 C88.57,413.02 92.2,414.83 95.6,416.9 C99,418.97 102.63,422.02 105.8,424.2 C108.97,426.38 111.68,427.93 114.6,430 C117.52,432.07 120.38,434.4 123.3,436.6 C126.22,438.8 129.18,441.02 132.1,443.2 C135.02,445.38 137.82,447.73 140.8,449.7 C143.78,451.67 146.13,452.53 150,455 C153.87,457.47 159.33,461.17 164,464.5 C168.67,467.83 173.67,471.87 178,475 C182.33,478.13 185.82,480.05 190,483.3 C194.18,486.55 198.72,490.88 203.1,494.5 C207.48,498.12 211.92,501.83 216.3,505 C220.68,508.17 225.02,511.1 229.4,513.5 C233.78,515.9 238.22,517.75 242.6,519.4 C246.98,521.05 252.2,522.45 255.7,523.4 C259.2,524.35 261.55,524.78 263.6,525.1 C265.65,525.42 267.27,525.27 268,525.3" fill="none" stroke="#8e8e8e" stroke-width="1.3" stroke-linejoin="round"/>
<path d="M67.5,406.7 C69.25,407.17 74.53,408.17 78,409.5 C81.47,410.83 85.5,412.25 88.3,414.7 C91.1,417.15 92.85,421.4 94.8,424.2 C96.75,427 98.42,429.32 100,431.5 C101.58,433.68 102.85,435.48 104.3,437.3 C105.75,439.12 107.23,441.18 108.7,442.4 C110.17,443.62 111.15,443.87 113.1,444.6 C115.05,445.33 118.22,445.95 120.4,446.8 C122.58,447.65 124.25,448.6 126.2,449.7 C128.15,450.8 130.15,452.05 132.1,453.4 C134.05,454.75 135.47,455.85 137.9,457.8 C140.33,459.75 144.27,463.4 146.7,465.1 C149.13,466.8 150.55,466.78 152.5,468 C154.45,469.22 156.65,471.32 158.4,472.4 C160.15,473.48 161.48,473.77 163,474.5 C164.52,475.23 165.83,475.8 167.5,476.8 C169.17,477.8 171.25,479.05 173,480.5 C174.75,481.95 176,482.9 178,485.5 C180,488.1 183,493.4 185,496.1 C187,498.8 187.63,499.23 190,501.7 C192.37,504.17 195.92,508.27 199.2,510.9 C202.48,513.53 206.2,515.75 209.7,517.5 C213.2,519.25 216.92,520.42 220.2,521.4 C223.48,522.38 226.55,522.85 229.4,523.4 C232.25,523.95 235.2,524.38 237.3,524.7 C239.4,525.02 241.22,525.2 242,525.3" fill="none" stroke="#1c1c1c" stroke-width="1.7" stroke-dasharray="4.6 4.4" stroke-linejoin="round"/>
<path d="M67.5,405.5 C69.02,405.82 73.62,406.6 76.6,407.4 C79.58,408.2 82.48,408.97 85.4,410.3 C88.32,411.63 91.18,413.33 94.1,415.4 C97.02,417.47 99.98,420.13 102.9,422.7 C105.82,425.27 108.68,428.12 111.6,430.8 C114.52,433.48 117.47,436.13 120.4,438.8 C123.33,441.47 126.28,444.12 129.2,446.8 C132.12,449.48 134.98,452.22 137.9,454.9 C140.82,457.58 143.78,460.35 146.7,462.9 C149.62,465.45 153.1,468.62 155.4,470.2 C157.7,471.78 157.9,470.72 160.5,472.4 C163.1,474.08 167.5,477.82 171,480.3 C174.5,482.78 178.33,485.08 181.5,487.3 C184.67,489.52 187.27,491.32 190,493.6 C192.73,495.88 195.27,498.55 197.9,501 C200.53,503.45 202.73,505.88 205.8,508.3 C208.87,510.72 212.8,513.53 216.3,515.5 C219.8,517.47 223.3,518.9 226.8,520.1 C230.3,521.3 233.8,521.93 237.3,522.7 C240.8,523.47 245.18,524.27 247.8,524.7 C250.42,525.13 252.13,525.2 253,525.3" fill="none" stroke="#1c1c1c" stroke-width="1.5" stroke-linejoin="round"/>
<path d="M67.5,482 C73.88,482.07 96.5,482.17 105.8,482.4 C115.1,482.63 117.6,483.27 123.3,483.4 C129,483.53 134.97,483.28 140,483.2 C145.03,483.12 148.62,482.87 153.5,482.9 C158.38,482.93 164.05,482.88 169.3,483.4 C174.55,483.92 179.45,484.82 185,486 C190.55,487.18 197.6,489.17 202.6,490.5 C207.6,491.83 210.63,492.63 215,494 C219.37,495.37 223.57,497.63 228.8,498.7 C234.03,499.77 241.53,499.93 246.4,500.4 C251.27,500.87 254.78,501.12 258,501.5 C261.22,501.88 262.2,502.18 265.7,502.7 C269.2,503.22 274.35,503.65 279,504.6 C283.65,505.55 288.85,507.05 293.6,508.4 C298.35,509.75 302.8,511.12 307.5,512.7 C312.2,514.28 317.05,516.4 321.8,517.9 C326.55,519.4 331.73,520.6 336,521.7 C340.27,522.8 345.5,524.03 347.4,524.5" fill="none" stroke="#b03a3a" stroke-width="1.6" stroke-dasharray="4.6 4.4" stroke-linejoin="round"/>
<path d="M67.5,479 C73.88,479 96.98,478.8 105.8,479 C114.62,479.2 115.53,479.57 120.4,480.2 C125.27,480.83 130.13,482.07 135,482.8 C139.87,483.53 145.1,484.17 149.6,484.6 C154.1,485.03 156.1,484.8 162,485.4 C167.9,486 178.23,487.35 185,488.2 C191.77,489.05 196.77,489.63 202.6,490.5 C208.43,491.37 214.17,492.47 220,493.4 C225.83,494.33 231.75,495.22 237.6,496.1 C243.45,496.98 251.37,498.15 255.1,498.7 C258.83,499.25 257.28,499.05 260,499.4 C262.72,499.75 267.73,500.2 271.4,500.8 C275.07,501.4 278.3,502.22 282,503 C285.7,503.78 289.35,504.28 293.6,505.5 C297.85,506.72 302.8,508.72 307.5,510.3 C312.2,511.88 317.05,513.42 321.8,515 C326.55,516.58 332.47,518.63 336,519.8 C339.53,520.97 340.75,521.22 343,522 C345.25,522.78 348.42,524.08 349.5,524.5" fill="none" stroke="#b03a3a" stroke-width="1.45" stroke-linejoin="round"/>
<path d="M67.5,492.6 C79.23,492.6 124.22,492.35 137.9,492.6 C151.58,492.85 145.58,493.78 149.6,494.1 C153.62,494.42 156.1,494.37 162,494.5 C167.9,494.63 178.15,494.52 185,494.9 C191.85,495.28 197.27,496.23 203.1,496.8 C208.93,497.37 215.62,497.92 220,498.3 C224.38,498.68 224.55,498.97 229.4,499.1 C234.25,499.23 244.33,499.28 249.1,499.1 C253.87,498.92 255.15,498.45 258,498 C260.85,497.55 262.53,497.22 266.2,496.4 C269.87,495.58 276.28,494.58 280,493.1 C283.72,491.62 285.5,489.87 288.5,487.5 C291.5,485.13 294.83,481.43 298,478.9 C301.17,476.37 303.53,475.15 307.5,472.3 C311.47,469.45 317.05,465.45 321.8,461.8 C326.55,458.15 332.3,453.95 336,450.4 C339.7,446.85 342.67,442.15 344,440.5" fill="none" stroke="#22228c" stroke-width="1.7" stroke-dasharray="4.6 4.4" stroke-linejoin="round"/>
<path d="M67.5,490.1 C81.25,490.13 130.42,490.27 150,490.3 C169.58,490.33 175.22,490.3 185,490.3 C194.78,490.3 201.4,490.37 208.7,490.3 C216,490.23 222.52,490.1 228.8,489.9 C235.08,489.7 241.2,489.42 246.4,489.1 C251.6,488.78 256.07,488.35 260,488 C263.93,487.65 266.83,487.4 270,487 C273.17,486.6 275.07,486.57 279,485.6 C282.93,484.63 288.85,482.95 293.6,481.2 C298.35,479.45 302.8,477.38 307.5,475.1 C312.2,472.82 317.05,470.82 321.8,467.5 C326.55,464.18 332.47,458.28 336,455.2 C339.53,452.12 340.62,451.13 343,449 C345.38,446.87 349.08,443.5 350.3,442.4" fill="none" stroke="#22228c" stroke-width="1.45" stroke-linejoin="round"/>
</g>
<g clip-path="url(#cpd)">
<path d="M390.5,427 C392.02,427.37 396.38,428.35 399.6,429.2 C402.82,430.05 406.63,430.88 409.8,432.1 C412.97,433.32 415.92,434.8 418.6,436.5 C421.28,438.2 423.72,440.35 425.9,442.3 C428.08,444.25 429.27,446.48 431.7,448.2 C434.13,449.92 437.58,451.52 440.5,452.6 C443.42,453.68 446.28,453.85 449.2,454.7 C452.12,455.55 455.07,456.35 458,457.7 C460.93,459.05 463.92,460.93 466.8,462.8 C469.68,464.67 471.85,467.15 475.3,468.9 C478.75,470.65 483.13,471.55 487.5,473.3 C491.87,475.05 496.83,477.37 501.5,479.4 C506.17,481.43 510.53,483.02 515.5,485.5 C520.47,487.98 526.33,491.37 531.3,494.3 C536.27,497.23 540.63,500.47 545.3,503.1 C549.97,505.73 554.33,508.07 559.3,510.1 C564.27,512.13 571.65,514.17 575.1,515.3 C578.55,516.43 577.52,516.07 580,516.9 C582.48,517.73 587.75,519.57 590,520.3 C592.25,521.03 591.42,520.68 593.5,521.3 C595.58,521.92 600.42,523.38 602.5,524 C604.58,524.62 605.42,524.83 606,525" fill="none" stroke="#8e8e8e" stroke-width="1.2" stroke-dasharray="4.6 4.4" stroke-linejoin="round"/>
<path d="M390.5,423.4 C392.02,423.43 396.62,423.42 399.6,423.6 C402.58,423.78 405.23,423.82 408.4,424.5 C411.57,425.18 415.2,426.32 418.6,427.7 C422,429.08 425.63,431.05 428.8,432.8 C431.97,434.55 434.68,436.48 437.6,438.2 C440.52,439.92 443.38,441.57 446.3,443.1 C449.22,444.63 452.18,445.95 455.1,447.4 C458.02,448.85 460.88,450.4 463.8,451.8 C466.72,453.2 468.65,453.97 472.6,455.8 C476.55,457.63 482.1,460.03 487.5,462.8 C492.9,465.57 499.15,469.2 505,472.4 C510.85,475.6 516.75,478.93 522.6,482 C528.45,485.07 534.27,487.87 540.1,490.8 C545.93,493.73 551.77,496.68 557.6,499.6 C563.43,502.52 571.37,506.55 575.1,508.3 C578.83,510.05 577.52,508.9 580,510.1 C582.48,511.3 587.33,514.1 590,515.5 C592.67,516.9 594,517.58 596,518.5 C598,519.42 600.17,520.28 602,521 C603.83,521.72 605.33,522.28 607,522.8 C608.67,523.32 610.33,523.73 612,524.1 C613.67,524.47 616.17,524.85 617,525" fill="none" stroke="#8e8e8e" stroke-width="1.3" stroke-linejoin="round"/>
<path d="M390.5,421 C392.02,421.75 396.13,424.02 399.6,425.5 C403.07,426.98 408.13,428.55 411.3,429.9 C414.47,431.25 416.65,432.38 418.6,433.6 C420.55,434.82 421.3,435.62 423,437.2 C424.7,438.78 426.87,441.27 428.8,443.1 C430.73,444.93 432.65,446.75 434.6,448.2 C436.55,449.65 438.07,450.72 440.5,451.8 C442.93,452.88 446.28,453.35 449.2,454.7 C452.12,456.05 455.07,457.82 458,459.9 C460.93,461.98 464.72,465.35 466.8,467.2 C468.88,469.05 469.08,469.7 470.5,471 C471.92,472.3 472.75,473.17 475.3,475 C477.85,476.83 482.3,479.65 485.8,482 C489.3,484.35 493.1,487.33 496.3,489.1 C499.5,490.87 501.8,491.43 505,492.6 C508.2,493.77 512.28,494.93 515.5,496.1 C518.72,497.27 521.67,498.15 524.3,499.6 C526.93,501.05 528.97,502.47 531.3,504.8 C533.63,507.13 535.97,510.97 538.3,513.6 C540.63,516.23 543.25,518.85 545.3,520.6 C547.35,522.35 549.32,523.37 550.6,524.1 C551.88,524.83 552.6,524.85 553,525" fill="none" stroke="#1c1c1c" stroke-width="1.7" stroke-dasharray="4.6 4.4" stroke-linejoin="round"/>
<path d="M390.5,420.4 C392.02,421.13 396.62,423.53 399.6,424.8 C402.58,426.07 405.23,426.97 408.4,428 C411.57,429.03 415.68,430.07 418.6,431 C421.52,431.93 423.47,432.57 425.9,433.6 C428.33,434.63 430.28,435.62 433.2,437.2 C436.12,438.78 440.23,441.27 443.4,443.1 C446.57,444.93 449.28,446.5 452.2,448.2 C455.12,449.9 457.93,451.45 460.9,453.3 C463.87,455.15 466.73,457.13 470,459.3 C473.27,461.47 477,464.27 480.5,466.3 C484,468.33 487.75,469.97 491,471.5 C494.25,473.03 496.75,474 500,475.5 C503.25,477 507.83,479.08 510.5,480.5 C513.17,481.92 514.25,482.83 516,484 C517.75,485.17 519,485.75 521,487.5 C523,489.25 525.67,492.02 528,494.5 C530.33,496.98 532.67,499.48 535,502.4 C537.33,505.32 539.67,509.23 542,512 C544.33,514.77 546.67,517.1 549,519 C551.33,520.9 553.95,522.38 556,523.4 C558.05,524.42 541.8,524.82 561.3,525.1 C580.8,525.38 654.38,525.1 673,525.1" fill="none" stroke="#1c1c1c" stroke-width="1.5" stroke-linejoin="round"/>
<path d="M390.5,484.6 C396.88,484.5 417.55,484.13 428.8,484 C440.05,483.87 450.22,483.9 458,483.8 C465.78,483.7 470,483.5 475.5,483.4 C481,483.3 486.08,482.7 491,483.2 C495.92,483.7 501,485.18 505,486.4 C509,487.62 511.2,489.18 515,490.5 C518.8,491.82 523.03,492.93 527.8,494.3 C532.57,495.67 538.63,497.68 543.6,498.7 C548.57,499.72 552.35,500.12 557.6,500.4 C562.85,500.68 569.7,500.55 575.1,500.4 C580.5,500.25 573.68,499.82 590,499.5 C606.32,499.18 659.17,498.67 673,498.5" fill="none" stroke="#b03a3a" stroke-width="1.6" stroke-dasharray="4.6 4.4" stroke-linejoin="round"/>
<path d="M390.5,483.9 C396.88,483.82 417.55,483.53 428.8,483.4 C440.05,483.27 451.13,483.1 458,483.1 C464.87,483.1 467.08,483.2 470,483.4 C472.92,483.6 472.58,484.05 475.5,484.3 C478.42,484.55 482.58,484.47 487.5,484.9 C492.42,485.33 499.15,486.12 505,486.9 C510.85,487.68 516.75,488.72 522.6,489.6 C528.45,490.48 534.27,491.27 540.1,492.2 C545.93,493.13 551.77,494.27 557.6,495.2 C563.43,496.13 569.7,497.07 575.1,497.8 C580.5,498.53 573.68,499.3 590,499.6 C606.32,499.9 659.17,499.6 673,499.6" fill="none" stroke="#b03a3a" stroke-width="1.45" stroke-linejoin="round"/>
<path d="M390.5,503.9 C392.02,503.65 395.65,502.5 399.6,502.4 C403.55,502.3 407.38,503.1 414.2,503.3 C421.02,503.5 434.9,503.32 440.5,503.6 C446.1,503.88 444.88,504.57 447.8,505 C450.72,505.43 453.87,506.07 458,506.2 C462.13,506.33 467.68,505.88 472.6,505.8 C477.52,505.72 482.1,505.8 487.5,505.7 C492.9,505.6 497.4,505.28 505,505.2 C512.6,505.12 523.93,505.23 533.1,505.2 C542.27,505.17 552.18,505.45 560,505 C567.82,504.55 574.42,503.52 580,502.5 C585.58,501.48 589.75,500.63 593.5,498.9 C597.25,497.17 598.75,495.67 602.5,492.1 C606.25,488.53 611.52,482.73 616,477.5 C620.48,472.27 624.92,465.75 629.4,460.7 C633.88,455.65 638.77,450.58 642.9,447.2 C647.03,443.82 650.45,442.47 654.2,440.4 C657.95,438.33 662.22,436.28 665.4,434.8 C668.58,433.32 671.98,432.05 673.3,431.5" fill="none" stroke="#22228c" stroke-width="1.7" stroke-dasharray="4.6 4.4" stroke-linejoin="round"/>
<path d="M390.5,499.9 C399.32,499.9 431.67,499.82 443.4,499.9 C455.13,499.98 456.47,500.28 460.9,500.4 C465.33,500.52 465.57,500.45 470,500.6 C474.43,500.75 481.67,500.95 487.5,501.3 C493.33,501.65 499.15,502.27 505,502.7 C510.85,503.13 516.75,503.55 522.6,503.9 C528.45,504.25 534.27,504.58 540.1,504.8 C545.93,505.02 552.35,505.35 557.6,505.2 C562.85,505.05 567.52,504.55 571.6,503.9 C575.68,503.25 578.45,502.13 582.1,501.3 C585.75,500.47 590.1,500.05 593.5,498.9 C596.9,497.75 598.75,496.65 602.5,494.4 C606.25,492.15 611.52,489.15 616,485.4 C620.48,481.65 624.92,476.95 629.4,471.9 C633.88,466.85 638.4,460.9 642.9,455.1 C647.4,449.3 651.33,443.47 656.4,437.1 C661.47,430.73 670.48,420.27 673.3,416.9" fill="none" stroke="#22228c" stroke-width="1.45" stroke-linejoin="round"/>
</g>
<rect x="267.2" y="62.4" width="79.9" height="17.1" fill="#fff" stroke="#777" stroke-width="1"/>
<text x="307.45" y="75.8" class="pl" text-anchor="middle">a. Slope: 5%</text>
<rect x="580.9" y="62.2" width="88.2" height="17.2" fill="#fff" stroke="#777" stroke-width="1"/>
<text x="625.3" y="75.6" class="pl" text-anchor="middle">b. Slope: 10%</text>
<rect x="257.7" y="312.2" width="88.1" height="16.9" fill="#fff" stroke="#777" stroke-width="1"/>
<text x="302.05" y="325.6" class="pl" text-anchor="middle">c. Slope: 15%</text>
<rect x="579.6" y="312.2" width="88.7" height="17.2" fill="#fff" stroke="#777" stroke-width="1"/>
<text x="624.25" y="325.6" class="pl" text-anchor="middle">d. Slope: 20%</text>
<line x1="65.8" y1="3.1" x2="673.9" y2="3.1" stroke="#bababa" stroke-width="1.4"/>
<line x1="65.8" y1="48.6" x2="673.9" y2="48.6" stroke="#959595" stroke-width="1.5"/>
<line x1="66.5" y1="2.4" x2="66.5" y2="49.3" stroke="#6e6e6e" stroke-width="1.4"/>
<line x1="673.2" y1="2.4" x2="673.2" y2="49.3" stroke="#8a8a8a" stroke-width="1.4"/>
<line x1="81.2" y1="16.6" x2="114.6" y2="16.6" stroke="#1c1c1c" stroke-width="1.5" stroke-dasharray="4.7 4.8"/>
<text x="121" y="21.15" class="lg">LT</text>
<text x="155" y="21.15" class="lg">w=60%</text>
<line x1="81.2" y1="35.4" x2="114.6" y2="35.4" stroke="#8e8e8e" stroke-width="1.3" stroke-dasharray="4.7 4.8"/>
<text x="121" y="40.3" class="lg">LT</text>
<text x="155" y="40.3" class="lg">w=65%</text>
<line x1="227.2" y1="16.6" x2="262" y2="16.6" stroke="#1c1c1c" stroke-width="1.5"/>
<text x="265.7" y="21.15" class="lg">NS</text>
<text x="301" y="21.15" class="lg">w=60%</text>
<line x1="227.2" y1="35.4" x2="262" y2="35.4" stroke="#8e8e8e" stroke-width="1.3"/>
<text x="265.7" y="40.3" class="lg">NS</text>
<text x="301" y="40.3" class="lg">w=65%</text>
<line x1="388.5" y1="16.6" x2="422" y2="16.6" stroke="#b03a3a" stroke-width="1.45" stroke-dasharray="4.7 4.8"/>
<text x="428.2" y="21.15" class="lg">LT</text>
<text x="461.2" y="21.15" class="lg">w=70%</text>
<line x1="388.5" y1="35.4" x2="422" y2="35.4" stroke="#22228c" stroke-width="1.45" stroke-dasharray="4.7 4.8"/>
<text x="428.2" y="40.3" class="lg">LT</text>
<text x="461.2" y="40.3" class="lg">w=80%</text>
<line x1="534.8" y1="16.6" x2="570.3" y2="16.6" stroke="#b03a3a" stroke-width="1.45"/>
<text x="574" y="21.15" class="lg">NS</text>
<text x="608.8" y="21.15" class="lg">w=70%</text>
<line x1="534.8" y1="35.4" x2="570.3" y2="35.4" stroke="#22228c" stroke-width="1.45"/>
<text x="574" y="40.3" class="lg">NS</text>
<text x="608.8" y="40.3" class="lg">w=80%</text>
<text x="375.6" y="569.2" class="at" text-anchor="middle">Position (m)</text>
<text transform="translate(21.4,290.1) rotate(-90)" class="at2" text-anchor="middle">Deposition Heigth (m)</text>
</svg>
</body></html>
